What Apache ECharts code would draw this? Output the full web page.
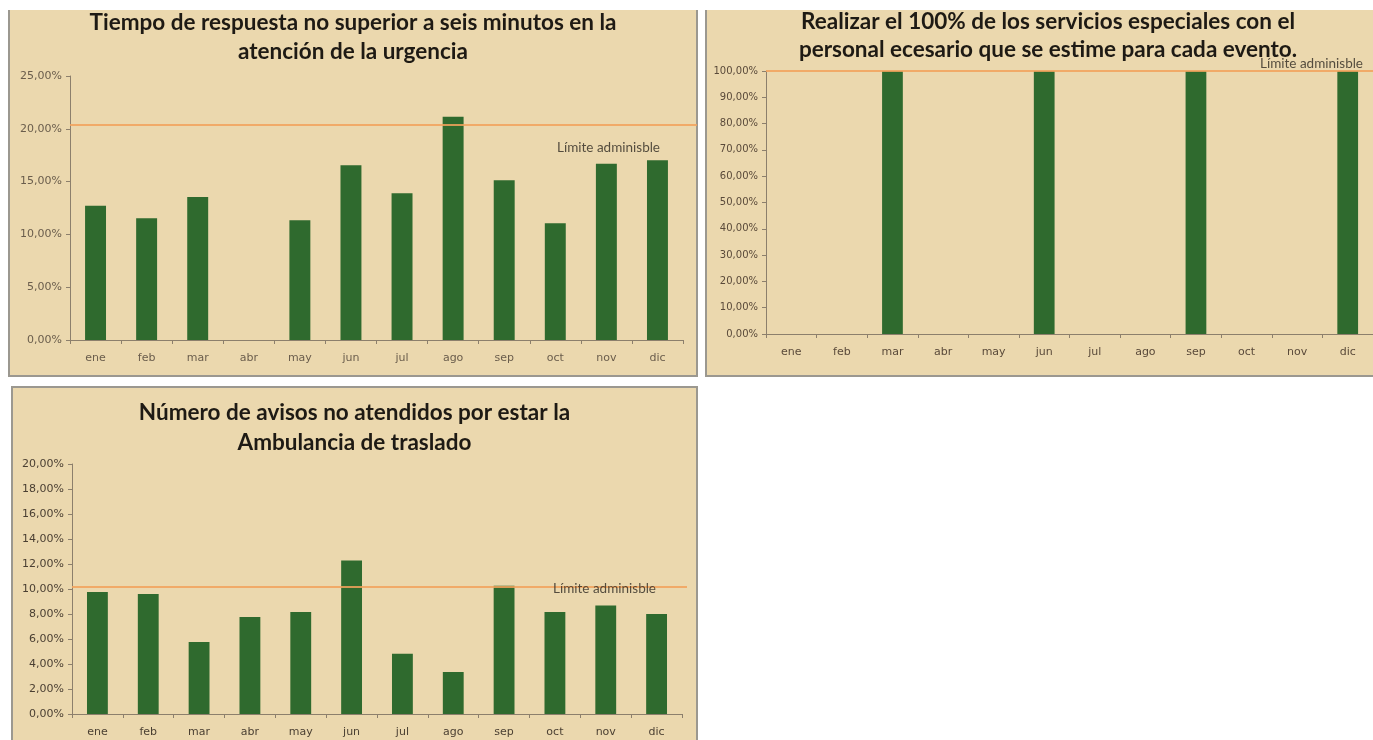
<!DOCTYPE html>
<html>
<head>
<meta charset="utf-8">
<script src="https://cdn.jsdelivr.net/npm/echarts@6/dist/echarts.min.js"></script>
<style>
  body { margin: 0; background: #fff; width: 1373px; height: 740px; overflow: hidden; position: relative; }
  .panel { position: absolute; background: #ebd8ae; border: 2px solid #9b9890; box-sizing: border-box; }
  .chart { position: absolute; }
</style>
</head>
<body>
<div class="panel" style="left:8px;top:10px;width:690px;height:367px;border-top:none"></div>
<div class="panel" style="left:705px;top:10px;width:686px;height:367px;border-top:none"></div>
<div class="panel" style="left:11px;top:386px;width:687px;height:400px"></div>

<div id="tiempo" class="chart" style="left:8px;top:10px;width:690px;height:367px"></div>
<div id="especiales" class="chart" style="left:705px;top:10px;width:686px;height:367px"></div>
<div id="avisos" class="chart" style="left:11px;top:386px;width:687px;height:400px"></div>

<script>
// datos (porcentajes)
var meses = ['ene', 'feb', 'mar', 'abr', 'may', 'jun', 'jul', 'ago', 'sep', 'oct', 'nov', 'dic'];

var tiempoRespuesta = [12.72, 11.52, 13.54, 0, 11.33, 16.54, 13.89, 21.15, 15.12, 11.05, 16.70, 17.01];
var limiteTiempo = 20.4;

var serviciosEspeciales = [0, 0, 100, 0, 0, 100, 0, 0, 100, 0, 0, 100];
var limiteEspeciales = 100;

var avisosNoAtendidos = [9.76, 9.60, 5.76, 7.76, 8.16, 12.29, 4.83, 3.36, 10.27, 8.16, 8.69, 8.00];
var limiteAvisos = 10.15;

var etiquetaLimite = 'Límite adminisble';

function pct(v) {
    return v.toFixed(2).replace('.', ',') + '%';
}

function dibujar(id, cfg) {
    var el = document.getElementById(id);
    var chart = echarts.init(el);
    var axisColor = '#8c7f6c';

    chart.setOption({
        animation: false,
        title: {
            text: cfg.titulo,
            left: 'center',
            top: cfg.titleTop,
            padding: 0,
            textStyle: {
                fontFamily: 'Lato',
                fontWeight: 'bold',
                fontSize: 22.5,
                lineHeight: cfg.titleLine,
                color: '#1e1a14'
            }
        },
        grid: cfg.grid,
        xAxis: {
            type: 'category',
            data: meses,
            axisLine: { lineStyle: { color: axisColor, width: 1 } },
            axisTick: { show: true, length: 4, lineStyle: { color: axisColor } },
            axisLabel: { color: cfg.labelColor, fontFamily: 'DejaVu Sans', fontSize: 11, margin: 13 }
        },
        yAxis: {
            type: 'value',
            min: 0,
            max: cfg.max,
            interval: cfg.interval,
            splitLine: { show: false },
            axisLine: { show: true, lineStyle: { color: axisColor, width: 1 } },
            axisTick: { show: true, length: 4, lineStyle: { color: axisColor } },
            axisLabel: {
                color: cfg.labelColor,
                fontFamily: 'DejaVu Sans',
                fontSize: cfg.labelSize,
                margin: 8,
                formatter: pct
            }
        },
        series: [{
            type: 'bar',
            data: cfg.valores,
            barWidth: '41%',
            itemStyle: { color: '#2f6a2e' },
            markLine: {
                silent: true,
                symbol: 'none',
                lineStyle: { color: '#f2a25c', width: 2, type: 'solid', opacity: 0.85 },
                label: {
                    show: true,
                    formatter: etiquetaLimite,
                    position: cfg.labelPos,
                    distance: cfg.labelDist,
                    color: '#3a342a',
                    fontFamily: 'Lato',
                    fontSize: 13.5
                },
                data: [[
                    { yAxis: cfg.limite, x: cfg.grid.left },
                    { yAxis: cfg.limite, x: cfg.lineEnd }
                ]]
            }
        }]
    });
}

dibujar('tiempo', {
    titulo: 'Tiempo de respuesta no superior a seis minutos en la\natención de la urgencia',
    titleTop: -2, titleLine: 29,
    grid: { left: 62, top: 66, right: 15, bottom: 37 },
    max: 25, interval: 5, labelSize: 11, labelColor: '#6a5d4c',
    valores: tiempoRespuesta, limite: limiteTiempo,
    lineEnd: 689, labelPos: 'insideEndBottom', labelDist: [37, 16]
});

dibujar('especiales', {
    titulo: 'Realizar el 100% de los servicios especiales con el\npersonal ecesario que se estime para cada evento.',
    titleTop: -2, titleLine: 28,
    grid: { left: 61, top: 61, right: 18, bottom: 43 },
    max: 100, interval: 10, labelSize: 10, labelColor: '#5a4a3a',
    valores: serviciosEspeciales, limite: limiteEspeciales,
    lineEnd: 686, labelPos: 'insideEndTop', labelDist: [28, 0]
});

dibujar('avisos', {
    titulo: 'Número de avisos no atendidos por estar la\nAmbulancia de traslado',
    titleTop: 12, titleLine: 30,
    grid: { left: 61, top: 78, right: 16, bottom: 72 },
    max: 20, interval: 2, labelSize: 11, labelColor: '#4a3f32',
    valores: avisosNoAtendidos, limite: limiteAvisos,
    lineEnd: 676, labelPos: 'insideEndBottom', labelDist: [31, -5]
});
</script>
</body>
</html>
